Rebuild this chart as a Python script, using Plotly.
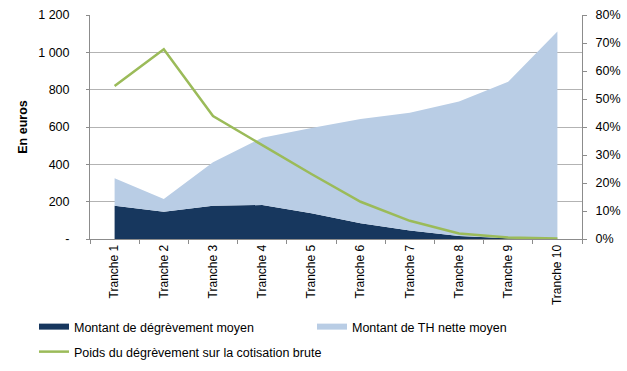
import plotly.graph_objects as go

categories = ["Tranche 1", "Tranche 2", "Tranche 3", "Tranche 4", "Tranche 5",
              "Tranche 6", "Tranche 7", "Tranche 8", "Tranche 9", "Tranche 10"]
degrevement = [178, 146, 178, 182, 138, 84, 45, 16, 4, 1]
th_nette = [147, 68, 233, 361, 457, 559, 632, 720, 839, 1110]
poids = [0.546, 0.678, 0.439, 0.335, 0.232, 0.133, 0.065, 0.020, 0.005, 0.002]

left_tickvals = [0, 200, 400, 600, 800, 1000, 1200]
left_ticktext = ["-", "200", "400", "600", "800", "1 000", "1 200"]

FONT = "Liberation Sans"
DARK = "#17375E"
LIGHT = "#B9CDE5"
GREEN = "#9BBB59"
GRID = "#B3B3B3"
AXIS = "#8C8C8C"

fig = go.Figure()
fig.add_trace(go.Scatter(
    x=categories, y=degrevement, name="Montant de dégrèvement moyen",
    stackgroup="one", mode="none", fillcolor=DARK, legend="legend"))
fig.add_trace(go.Scatter(
    x=categories, y=th_nette, name="Montant de TH nette moyen",
    stackgroup="one", mode="none", fillcolor=LIGHT, legend="legend2"))
fig.add_trace(go.Scatter(
    x=categories, y=poids, name="Poids du dégrèvement sur la cotisation brute",
    mode="lines", line=dict(color=GREEN, width=2.5), yaxis="y2", legend="legend3"))

legend_common = dict(orientation="h", xanchor="left", yanchor="middle",
                     font=dict(family=FONT, size=12.5, color="#000000"),
                     bgcolor="rgba(0,0,0,0)", borderwidth=0)

fig.update_layout(
    width=627, height=371,
    margin=dict(l=90, r=45, t=15, b=132, autoexpand=False),
    paper_bgcolor="white", plot_bgcolor="white",
    font=dict(family=FONT, size=12, color="#000000"),
    showlegend=True,
    legend=dict(x=(34 - 90) / 492, y=-(327 - 239) / 224, **legend_common),
    legend2=dict(x=(312 - 90) / 492, y=-(327 - 239) / 224, **legend_common),
    legend3=dict(x=(34 - 90) / 492, y=-(352 - 239) / 224, **legend_common),
    xaxis=dict(
        type="category", range=[-0.5, 9.5], tickangle=-90, automargin=False,
        showline=True, linecolor=AXIS, linewidth=1,
        ticks="outside", ticklen=4, tickcolor=AXIS, tickson="boundaries",
        showgrid=False, tickfont=dict(family=FONT, size=12),
    ),
    yaxis=dict(
        range=[0, 1200], tickvals=left_tickvals, ticktext=left_ticktext,
        automargin=False,
        showline=True, linecolor=AXIS, linewidth=1,
        ticks="outside", ticklen=3, tickcolor=AXIS,
        showgrid=True, gridcolor=GRID, gridwidth=1, zeroline=False,
        ticklabelstandoff=14,
        tickfont=dict(family=FONT, size=12.5),
        title=dict(text="<b>En euros</b>", font=dict(family=FONT, size=12.5), standoff=7),
    ),
    yaxis2=dict(
        range=[0, 0.8], dtick=0.1, tickformat=".0%", overlaying="y", side="right",
        automargin=False,
        showline=True, linecolor=AXIS, linewidth=1,
        ticks="outside", ticklen=4, tickcolor=AXIS,
        showgrid=False, zeroline=False, ticklabelstandoff=6,
        tickfont=dict(family=FONT, size=12.5),
    ),
)

fig.write_html("out.html", config={"displayModeBar": False},
               post_script="document.body.style.margin='0';")
